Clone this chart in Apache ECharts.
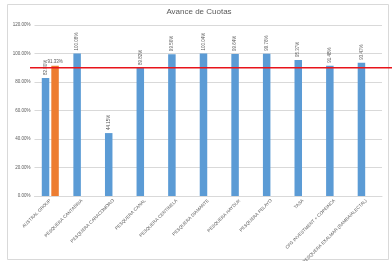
<!DOCTYPE html>
<html><head><meta charset="utf-8">
<script src="https://cdn.jsdelivr.net/npm/echarts@6/dist/echarts.min.js"></script>
<style>html,body{margin:0;padding:0;background:#fff}#c{width:392px;height:261px}</style>
</head><body><div id="c"></div>
<script>
const categories = ["AUSTRAL GROUP","PESQUERA CANTABRIA","PESQUERA CARACOMORO","PESQUERA CANAL","PESQUERA CENTINELA","PESQUERA DIAMANTE","PESQUERA HAYDUK","PESQUERA PELAYO","TASA","CFG INVESTMENT + COPEINCA","PESQUERA EXALMAR (BAMBA/ALECTAL)"];
const avance = [82.80, 100.08, 44.15, 89.82, 99.56, 100.04, 99.64, 99.76, 95.37, 91.48, 93.47];
const avanceOrange = [91.33, null, null, null, null, null, null, null, null, null, null];
const meta = 90;
const yTicks = [0, 20, 40, 60, 80, 100, 120];

const chart = echarts.init(document.getElementById('c'), null, {renderer:'canvas'});
const fmt = v => v.toFixed(2) + '%';
const border = {type:'rect', shape:{x:7.5, y:4.5, width:381, height:255}, style:{fill:'none', stroke:'#d9d9d9', lineWidth:1}, z:-10};
chart.setOption({
  animation:false,
  backgroundColor:'#fff',
  title:{text:'Avance de Cuotas', left:199, top:8, padding:0, textAlign:'center',
    textStyle:{fontSize:8, fontWeight:'normal', color:'#595959', fontFamily:'Liberation Sans'}},
  grid:{left:34.5, right:10, top:25, bottom:65, containLabel:false, outerBoundsMode:'none'},
  xAxis:{type:'category', data:categories,
    axisLine:{lineStyle:{color:'#d9d9d9'}}, axisTick:{show:false},
    axisLabel:{interval:0, rotate:45, fontSize:4.5, color:'#595959', margin:4, fontFamily:'Liberation Sans'}},
  yAxis:{type:'value', min:yTicks[0], max:yTicks[yTicks.length-1], interval:20,
    axisLabel:{formatter:fmt, fontSize:4.5, color:'#595959', margin:4, fontFamily:'Liberation Sans'},
    splitLine:{lineStyle:{color:'#d9d9d9', width:1}}, axisLine:{show:false}, axisTick:{show:false}},
  series:[
    {type:'bar', data:avance, barWidth:7.5, barGap:'27%', itemStyle:{color:'#5B9BD5'},
     label:{show:true, position:'top', rotate:90, align:'left', verticalAlign:'middle', distance:3,
       formatter:p=>fmt(p.value), fontSize:4.5, color:'#595959', fontFamily:'Liberation Sans'}},
    {type:'bar', data:avanceOrange, barWidth:7.5, itemStyle:{color:'#ED7D31'},
     label:{show:true, position:'top', distance:2,
       formatter:p=>p.value==null?'':fmt(p.value), fontSize:4.5, color:'#595959', fontFamily:'Liberation Sans'}}
  ],
  graphic:[border]
});
const yMeta = chart.convertToPixel({yAxisIndex:0}, meta);
chart.setOption({graphic:[border,
  {type:'line', shape:{x1:30, y1:yMeta, x2:392, y2:yMeta}, style:{stroke:'#e8141b', lineWidth:1.5}, z:100}]});
</script></body></html>
